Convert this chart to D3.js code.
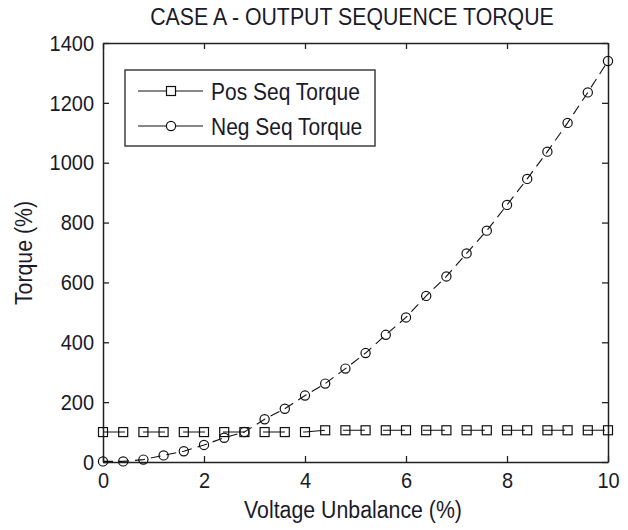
<!DOCTYPE html>
<html>
<head>
<meta charset="utf-8">
<script src="https://cdn.jsdelivr.net/npm/d3@7"></script>
<style>
  html, body { margin: 0; padding: 0; background: #fff; }
  svg { display: block; }
  text { font-family: "Liberation Sans", Arial, sans-serif; fill: #1a1a2a; }
</style>
</head>
<body>
<svg id="chart" width="628" height="530"></svg>
<script>
// Voltage unbalance steps (%)
const unbalance = [0, 0.4, 0.8, 1.2, 1.6, 2.0, 2.4, 2.8, 3.2, 3.6, 4.0, 4.4, 4.8,
                   5.2, 5.6, 6.0, 6.4, 6.8, 7.2, 7.6, 8.0, 8.4, 8.8, 9.2, 9.6, 10.0];
// Positive-sequence output torque (%)
const posSeqTorque = [100, 100, 100, 100, 100, 100, 100, 100, 100, 100, 100, 106, 106,
                      106, 106, 106, 106, 106, 106, 106, 106, 106, 106, 106, 106, 106];
// Negative-sequence output torque (%)
const negSeqTorque = [2, 2, 8, 22, 36, 57, 81, 100, 143, 178, 222, 262, 312,
                      364, 425, 483, 555, 620, 697, 773, 859, 946, 1037, 1133, 1235, 1340];

const xTicks = [0, 2, 4, 6, 8, 10];
const yTicks = [0, 200, 400, 600, 800, 1000, 1200, 1400];
const seriesNames = ["Pos Seq Torque", "Neg Seq Torque"];

const titleText = "CASE A - OUTPUT SEQUENCE TORQUE";
const xLabel = "Voltage Unbalance (%)";
const yLabel = "Torque (%)";

const svg = d3.select("#chart");
const plotLeft = 103, plotRight = 608, plotTop = 43, plotBottom = 462;
const stretch = 1.12; // glyphs are slightly taller than wide

const x = d3.scaleLinear().domain([0, 10]).range([plotLeft, plotRight]);
const y = d3.scaleLinear().domain([0, 1400]).range([plotBottom, plotTop]);

// places a text with its baseline at (px, py)
function label(px, py, str, size, anchor, rotate) {
  return svg.append("text")
    .attr("transform", `translate(${px},${py})` + (rotate ? ` rotate(${rotate})` : "") + ` scale(1,${stretch})`)
    .attr("text-anchor", anchor || "start")
    .style("font-size", size + "px")
    .text(str);
}

// axes on all four sides, ticks pointing inward
const axisStroke = "#222";
function styleAxis(g) {
  g.attr("font-family", null).attr("font-size", null);
  g.select(".domain").attr("stroke", axisStroke).attr("stroke-width", 1.5);
  g.selectAll(".tick line").attr("stroke", axisStroke).attr("stroke-width", 1.3);
  g.selectAll(".tick text").attr("fill", null).style("font-size", "20px");
}

const gx = svg.append("g").attr("transform", `translate(0,${plotBottom})`)
  .call(d3.axisBottom(x).tickValues(xTicks).tickSizeInner(-6).tickSizeOuter(0).tickPadding(0)
        .tickFormat(d3.format("d")));
gx.selectAll(".tick text")
  .attr("y", 0).attr("dy", null)
  .attr("transform", `translate(0,26) scale(1,${stretch})`);
styleAxis(gx);

const gy = svg.append("g").attr("transform", `translate(${plotLeft},0)`)
  .call(d3.axisLeft(y).tickValues(yTicks).tickSizeInner(-6).tickSizeOuter(0).tickPadding(9)
        .tickFormat(d3.format("d")));
gy.selectAll(".tick text").attr("transform", `scale(1,${stretch})`);
styleAxis(gy);

const gxTop = svg.append("g").attr("transform", `translate(0,${plotTop})`)
  .call(d3.axisTop(x).tickValues(xTicks).tickSizeInner(-6).tickSizeOuter(0).tickFormat(""));
styleAxis(gxTop);

const gyRight = svg.append("g").attr("transform", `translate(${plotRight},0)`)
  .call(d3.axisRight(y).tickValues(yTicks).tickSizeInner(-6).tickSizeOuter(0).tickFormat(""));
styleAxis(gyRight);

// series
const posData = unbalance.map((u, i) => [u, posSeqTorque[i]]);
const negData = unbalance.map((u, i) => [u, negSeqTorque[i]]);
const line = d3.line().x(d => x(d[0])).y(d => y(d[1]));

svg.append("path").datum(posData)
  .attr("d", line).attr("fill", "none").attr("stroke", "#111").attr("stroke-width", 1.1)
  .attr("stroke-dasharray", "22,18");
svg.append("path").datum(negData)
  .attr("d", line).attr("fill", "none").attr("stroke", "#111").attr("stroke-width", 1.1)
  .attr("stroke-dasharray", "10,6");

const sq = 9, cr = 4.6;
svg.append("g").selectAll("rect").data(posData).join("rect")
  .attr("x", d => x(d[0]) - sq / 2).attr("y", d => y(d[1]) - sq / 2)
  .attr("width", sq).attr("height", sq)
  .attr("fill", "none").attr("stroke", "#111").attr("stroke-width", 1.2);
svg.append("g").selectAll("circle").data(negData).join("circle")
  .attr("cx", d => x(d[0])).attr("cy", d => y(d[1])).attr("r", cr)
  .attr("fill", "none").attr("stroke", "#111").attr("stroke-width", 1.2);

// legend
const legend = svg.append("g");
legend.append("rect").attr("x", 125).attr("y", 70).attr("width", 250).attr("height", 76)
  .attr("fill", "#fff").attr("stroke", axisStroke).attr("stroke-width", 1.3);
const rows = [91, 126];
seriesNames.forEach((name, i) => {
  const ry = rows[i];
  legend.append("line").attr("x1", 138).attr("x2", 203).attr("y1", ry).attr("y2", ry)
    .attr("stroke", "#111").attr("stroke-width", 1.1);
  if (i === 0) {
    legend.append("rect").attr("x", 171 - sq / 2).attr("y", ry - sq / 2)
      .attr("width", sq).attr("height", sq)
      .attr("fill", "#fff").attr("stroke", "#111").attr("stroke-width", 1.2);
  } else {
    legend.append("circle").attr("cx", 171).attr("cy", ry).attr("r", cr)
      .attr("fill", "#fff").attr("stroke", "#111").attr("stroke-width", 1.2);
  }
  label(211, ry + 9, name, 21);
});

// titles
label(352, 25, titleText, 21.3, "middle");
label(353, 518, xLabel, 21.3, "middle");
label(32, 253, yLabel, 21.3, "middle", -90);
</script>
</body>
</html>
